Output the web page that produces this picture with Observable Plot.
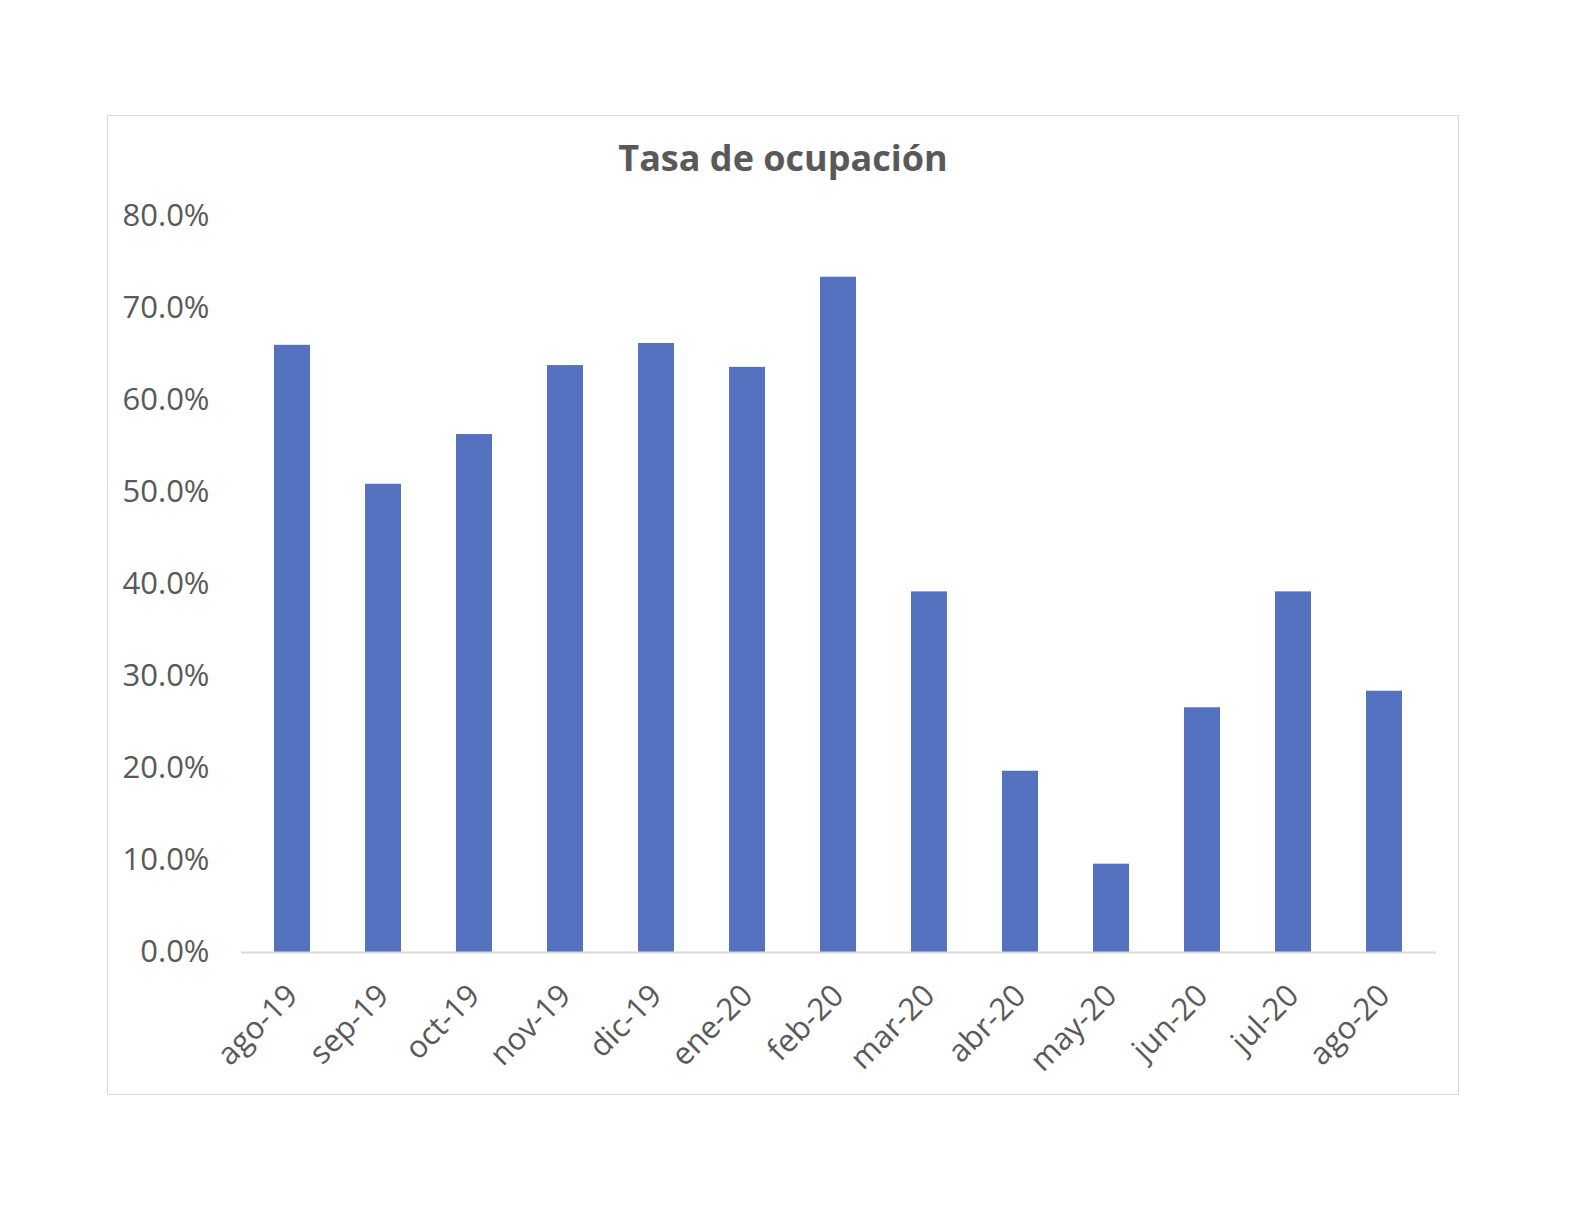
<!DOCTYPE html>
<html>
<head>
<meta charset="utf-8">
<script src="https://cdn.jsdelivr.net/npm/d3@7"></script>
<script src="https://cdn.jsdelivr.net/npm/@observablehq/plot@0.6"></script>
<style>
  html, body { margin: 0; padding: 0; background: #fff; overflow: hidden; }
  body { font-family: "Open Sans", sans-serif; }
  #frame { position: absolute; left: 107px; top: 115px; width: 1350px; height: 978px; border: 1px solid #d9d9d9; overflow: hidden; }
  #title { position: absolute; left: 0; width: 100%; top: 20px; text-align: center; font: bold 36px "Open Sans", sans-serif; color: #595959; line-height: 1.2; }
  #chart { position: absolute; left: 0; top: 0; line-height: 0; }
  #chart svg { display: block; }
</style>
</head>
<body>
<div id="frame">
  <div id="chart"></div>
  <div id="title">Tasa de ocupación</div>
</div>
<script>
const months = ["ago-19","sep-19","oct-19","nov-19","dic-19","ene-20","feb-20","mar-20","abr-20","may-20","jun-20","jul-20","ago-20"];
const rates = [0.660, 0.509, 0.563, 0.638, 0.662, 0.636, 0.734, 0.392, 0.197, 0.096, 0.266, 0.392, 0.284];
const yTicks = [0, 0.1, 0.2, 0.3, 0.4, 0.5, 0.6, 0.7, 0.8];

const data = months.map((m, i) => ({month: m, rate: rates[i]}));

const chart = Plot.plot({
  width: 1350,
  height: 978,
  marginTop: 100,
  marginBottom: 142,
  marginLeft: 133,
  marginRight: 22,
  style: { fontFamily: "Open Sans, sans-serif", fontSize: "31px", color: "#595959", background: "transparent" },
  x: { domain: months, paddingInner: 0.6, paddingOuter: 0.3, label: null, tickSize: 0, tickRotate: -45, tickPadding: 38 },
  y: { domain: [0, 0.8], ticks: yTicks, tickFormat: d3.format(".1%"), label: null, tickSize: 0, tickPadding: 32 },
  marks: [
    Plot.barY(data, { x: "month", y: "rate", fill: "#5572c0" }),
    Plot.ruleY([0], { stroke: "#d9d9d9", strokeWidth: 2 })
  ]
});
document.getElementById("chart").appendChild(chart);
</script>
</body>
</html>
